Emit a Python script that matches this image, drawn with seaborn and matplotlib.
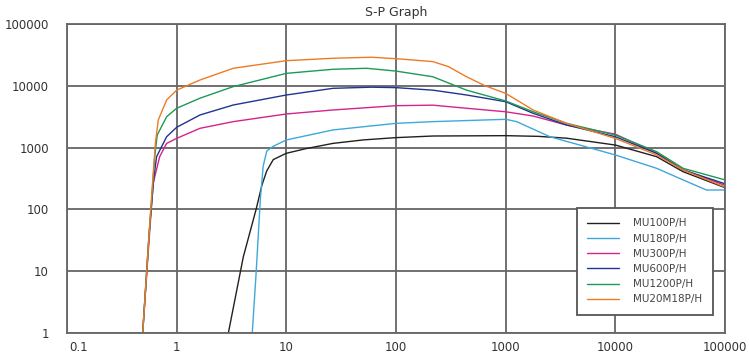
import pandas as pd
import matplotlib
matplotlib.use("Agg")
import matplotlib.pyplot as plt
import matplotlib.transforms as mtransforms
import seaborn as sns

series_names = ["MU100P/H", "MU180P/H", "MU300P/H", "MU600P/H", "MU1200P/H", "MU20M18P/H"]
series_colors = ["#231f20", "#3ea8dc", "#d4248a", "#1f3590", "#1d9a55", "#ee7b24"]

mu100_x = [2.96, 4.05, 5.3, 6.0, 6.63, 7.6, 10, 15, 26.6, 50, 100, 217, 1000, 2000, 3590, 10000, 23800, 41500, 100000]
mu100_y = [1, 17, 100, 250, 420, 640, 809, 960, 1170, 1330, 1450, 1540, 1560, 1520, 1420, 1100, 713, 407, 225]

mu180_x = [4.89, 5.3, 5.8, 6.15, 6.63, 7.6, 10, 26.6, 100, 217, 1000, 1260, 2530, 10000, 23800, 41500, 67700, 100000]
mu180_y = [1, 9.2, 150, 500, 880, 1050, 1330, 1930, 2470, 2630, 2870, 2630, 1500, 760, 462, 300, 206, 206]

mu300_x = [0.49, 0.55, 0.61, 0.70, 0.81, 1, 1.63, 3.28, 10, 26.6, 100, 217, 440, 1000, 1780, 3590, 10000, 23800, 41500, 100000]
mu300_y = [1, 20, 264, 713, 1170, 1410, 2050, 2630, 3500, 4060, 4770, 4860, 4330, 3800, 3240, 2320, 1650, 809, 440, 245]

mu600_x = [0.49, 0.56, 0.62, 0.656, 0.81, 1, 1.63, 3.28, 10, 26.6, 60, 100, 217, 440, 1000, 1780, 3590, 10000, 23800, 41500, 100000]
mu600_y = [1, 40, 330, 713, 1500, 2130, 3370, 4890, 7100, 9100, 9500, 9340, 8500, 7100, 5530, 3590, 2320, 1500, 809, 434, 260]

mu1200_x = [0.49, 0.57, 0.63, 0.665, 0.81, 1, 1.63, 3.28, 10, 26.6, 54, 100, 217, 440, 1000, 1780, 3590, 10000, 23800, 41500, 100000]
mu1200_y = [1, 60, 700, 1600, 3160, 4330, 6300, 9700, 15900, 18500, 19200, 17300, 14000, 8500, 5680, 3800, 2470, 1600, 859, 462, 300]

mu20m18_x = [0.49, 0.58, 0.64, 0.68, 0.81, 1, 1.63, 3.28, 10, 26.6, 60, 108, 217, 300, 440, 650, 1000, 1780, 3590, 10000, 23800, 41500, 100000]
mu20m18_y = [1, 100, 1200, 2800, 5900, 8500, 12400, 19200, 25500, 27900, 29000, 27200, 24600, 20500, 14000, 10000, 7550, 4060, 2470, 1410, 760, 434, 230]

all_x = [mu100_x, mu180_x, mu300_x, mu600_x, mu1200_x, mu20m18_x]
all_y = [mu100_y, mu180_y, mu300_y, mu600_y, mu1200_y, mu20m18_y]

frames = []
for name, xs, ys in zip(series_names, all_x, all_y):
    frames.append(pd.DataFrame({"pressure": xs, "speed": ys, "model": name}))
df = pd.concat(frames, ignore_index=True)

sns.set_theme(style="white")
plt.rcParams["font.family"] = ["DejaVu Sans"]

fig = plt.figure(figsize=(7.49, 3.58), dpi=100)
ax = fig.add_axes([67 / 749, 1 - 333 / 358, (725 - 67) / 749, (333 - 24) / 358])

sns.lineplot(data=df, x="pressure", y="speed", hue="model", hue_order=series_names,
             palette=series_colors, estimator=None, sort=False, linewidth=1.0, ax=ax)

ax.set_xscale("log")
ax.set_yscale("log")
ax.set_xlim(0.1, 100000)
ax.set_ylim(1, 100000)

xticks = [0.1, 1, 10, 100, 1000, 10000, 100000]
xtick_labels = ["0.1", "1", "10", "100", "1000", "10000", "100000"]
yticks = [1, 10, 100, 1000, 10000, 100000]
ytick_labels = ["1", "10", "100", "1000", "10000", "100000"]
ax.set_xticks(xticks)
ax.set_xticklabels(xtick_labels)
ax.set_yticks(yticks)
ax.set_yticklabels(ytick_labels)
ax.minorticks_off()
ax.tick_params(axis="x", length=0, labelsize=8.5, colors="#333333", pad=6)
ax.tick_params(axis="y", length=0, labelsize=8.5, colors="#333333", pad=13)
ax.grid(True, which="major", color="#666666", linewidth=1.3)
for s in ax.spines.values():
    s.set_color("#666666")
    s.set_linewidth(1.3)

# first x label sits a little to the right of the axis corner
first = ax.get_xticklabels()[0]
first.set_transform(first.get_transform() + mtransforms.ScaledTranslation(0.12, 0, fig.dpi_scale_trans))

ax.set_xlabel("")
ax.set_ylabel("")
ax.set_title("S-P Graph", fontsize=9, color="#333333", pad=6)

leg = ax.legend(loc="upper left", bbox_to_anchor=(577 / 749, 1 - 208 / 358),
                bbox_transform=fig.transFigure, fontsize=7.5, frameon=True, fancybox=False,
                handlelength=3.0, borderpad=1.0, labelspacing=0.5, handletextpad=1.4,
                borderaxespad=0)
leg.get_frame().set_edgecolor("#555555")
leg.get_frame().set_linewidth(1.3)
leg.get_frame().set_alpha(1)
for t in leg.get_texts():
    t.set_color("#444444")

fig.savefig("out.png", dpi=100)
